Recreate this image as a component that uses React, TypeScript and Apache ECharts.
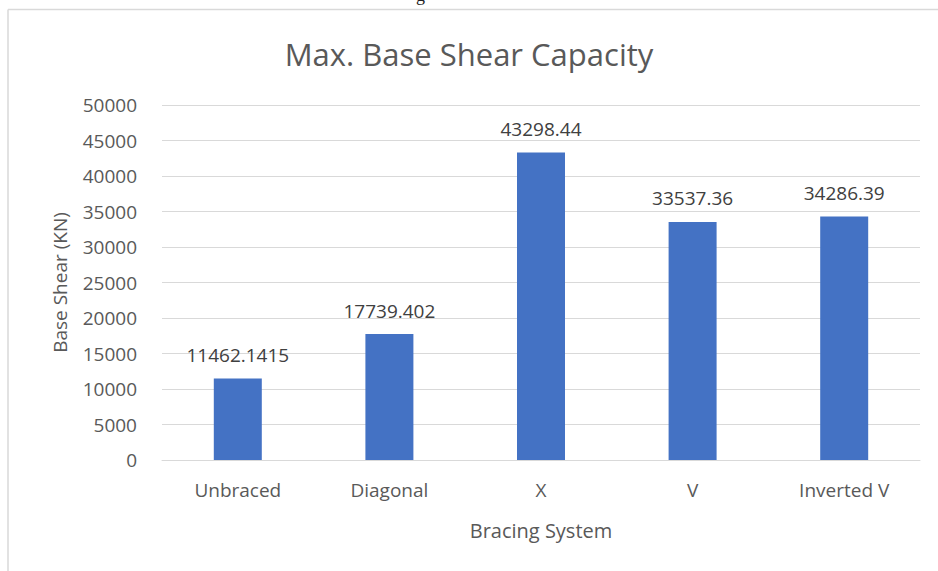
import React, { useEffect, useRef } from "react";
import * as echarts from "echarts";

const categories = ["Unbraced", "Diagonal", "X", "V", "Inverted V"];
const values = [11462.1415, 17739.402, 43298.44, 33537.36, 34286.39];
const valueLabels = ["11462.1415", "17739.402", "43298.44", "33537.36", "34286.39"];
const titleText = "Max. Base Shear Capacity";
const yName = "Base Shear (KN)";
const xName = "Bracing System";

const FONT = "'Open Sans', 'Noto Sans', sans-serif";
const GRAY = "#595959";

export default function App() {
  const ref = useRef<HTMLDivElement>(null);
  useEffect(() => {
    if (!ref.current) return;
    const chart = echarts.init(ref.current, undefined, { renderer: "svg" });
    chart.setOption({
      animation: false,
      backgroundColor: "#ffffff",
      title: {
        text: titleText,
        left: "center",
        top: 33,
        textStyle: { fontFamily: FONT, fontSize: 31, fontWeight: "normal", color: GRAY },
      },
      grid: { left: 162, right: 18, top: 105, bottom: 111 },
      xAxis: {
        type: "category",
        data: categories,
        axisTick: { show: false },
        axisLine: { lineStyle: { color: "#d9d9d9", width: 1 } },
        axisLabel: { fontFamily: FONT, fontSize: 19, color: GRAY, margin: 20 },
        name: xName,
        nameLocation: "middle",
        nameGap: 60,
        nameTextStyle: { fontFamily: FONT, fontSize: 20, color: GRAY },
      },
      yAxis: {
        type: "value",
        min: 0,
        max: 50000,
        interval: 5000,
        axisLine: { show: false },
        axisTick: { show: false },
        splitLine: { lineStyle: { color: "#d9d9d9", width: 1 } },
        axisLabel: {
          fontFamily: FONT,
          fontSize: 19,
          color: GRAY,
          margin: 25,
          formatter: (v: number) => String(v),
        },
        name: yName,
        nameLocation: "middle",
        nameGap: 93,
        nameTextStyle: { fontFamily: FONT, fontSize: 19, color: GRAY },
      },
      series: [
        {
          type: "bar",
          data: values,
          barWidth: 48,
          itemStyle: { color: "#4472C4" },
          label: {
            show: true,
            position: "top",
            distance: 14,
            fontFamily: FONT,
            fontSize: 19,
            color: "#404040",
            formatter: (p: any) => valueLabels[p.dataIndex],
          },
        },
      ],
      graphic: [
        { type: "line", shape: { x1: 8, y1: 9.5, x2: 938, y2: 9.5 }, style: { stroke: "#d9d9d9", lineWidth: 1.5 } },
        { type: "line", shape: { x1: 8, y1: 9.5, x2: 8, y2: 571 }, style: { stroke: "#d9d9d9", lineWidth: 1.5 } },
        { type: "text", x: 416, y: -14, style: { text: "g", font: "18px 'Liberation Serif', serif", fill: "#222" } },
      ],
    });
    return () => chart.dispose();
  }, []);
  return <div ref={ref} style={{ width: 938, height: 571, position: "absolute", left: 0, top: 0 }} />;
}
